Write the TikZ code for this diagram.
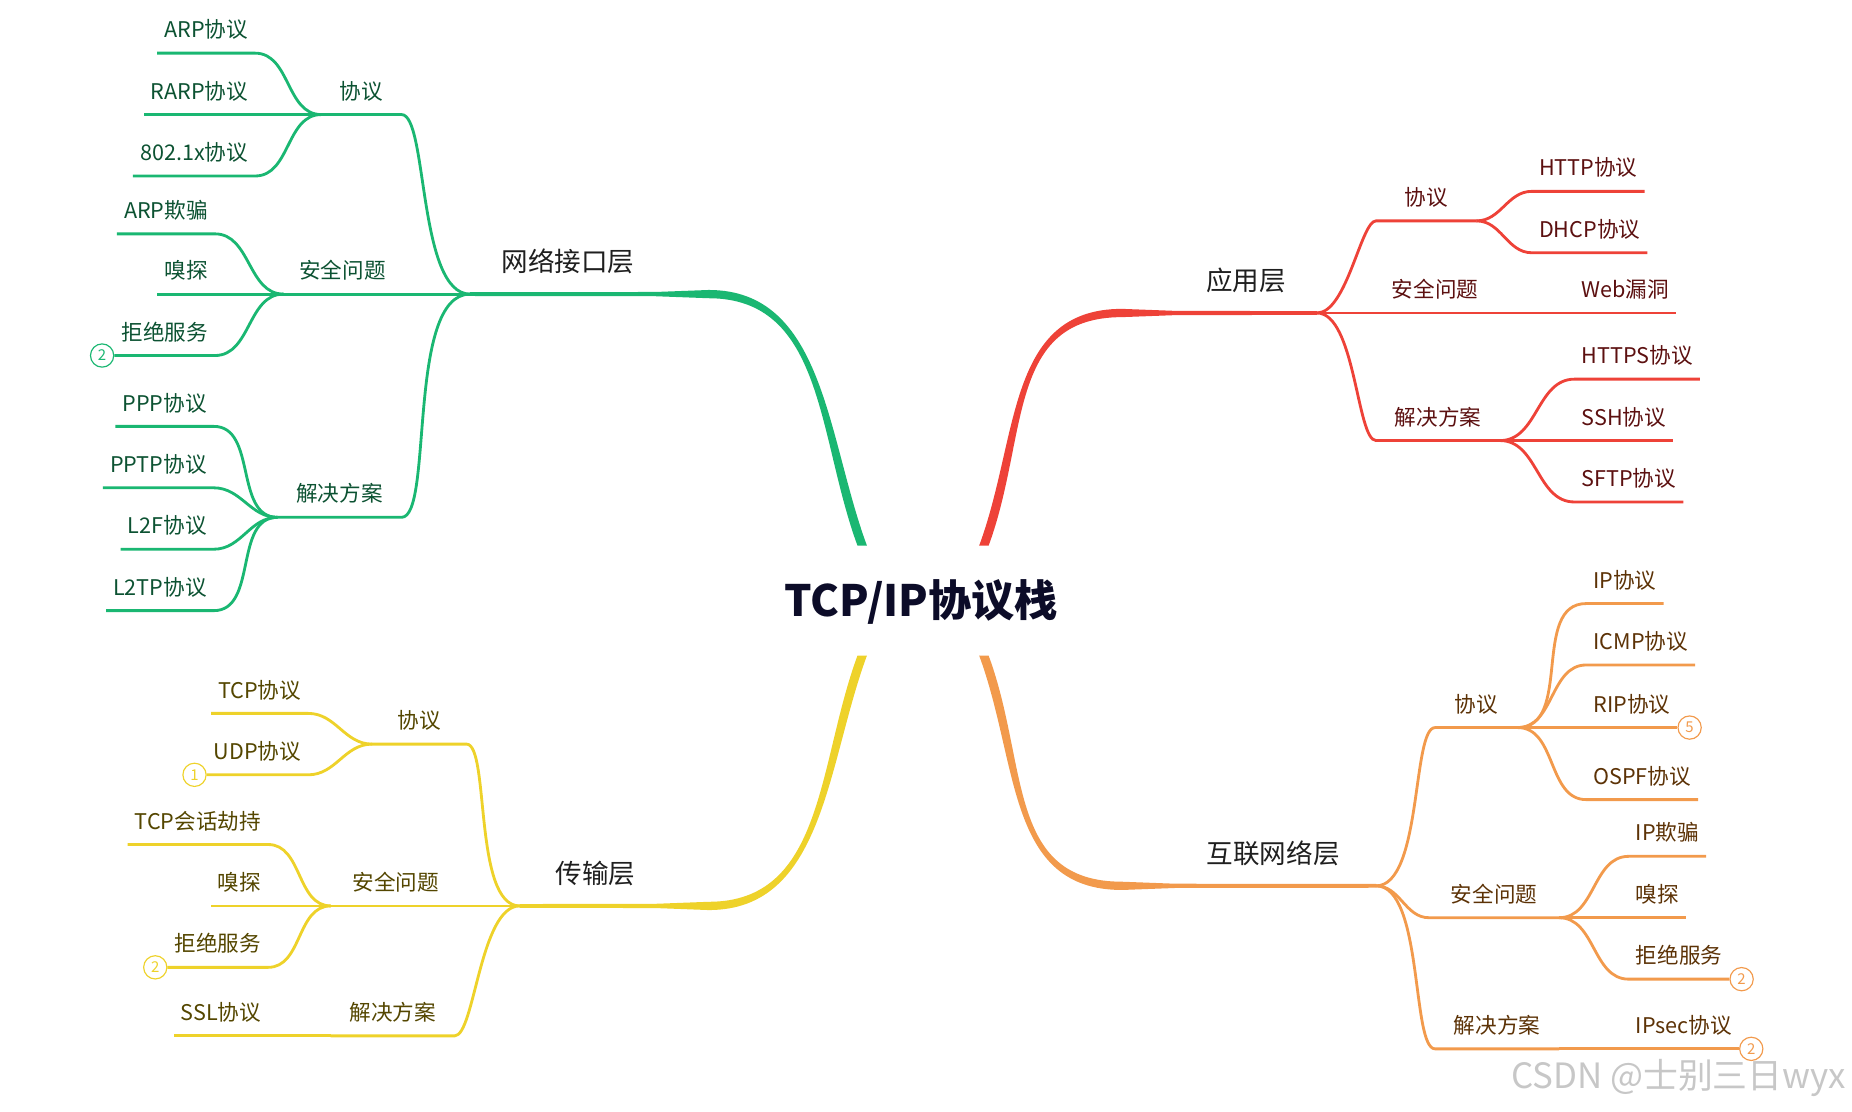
\documentclass[tikz,border=0pt]{standalone}
\usepackage{fontspec}
\setmainfont{Noto Sans CJK SC}
\usepackage{tikz}
\definecolor{lncol}{RGB}{26,183,114}
\definecolor{lntxt}{RGB}{12,82,50}
\definecolor{apcol}{RGB}{238,66,56}
\definecolor{aptxt}{RGB}{92,16,16}
\definecolor{trcol}{RGB}{238,210,42}
\definecolor{trtxt}{RGB}{84,70,0}
\definecolor{ipcol}{RGB}{242,154,76}
\definecolor{iptxt}{RGB}{92,50,6}
\definecolor{rootcol}{RGB}{12,12,40}

\begin{document}
\begin{tikzpicture}[x=0.025cm, y=-0.025cm,
    sub/.style={font=\fontsize{13}{15}\selectfont, inner xsep=4.3pt, inner ysep=9.25pt, text depth=0pt, outer sep=0pt},
    leafl/.style={sub, anchor=south east},
    leafr/.style={sub, anchor=south west},
    topic/.style={font=\fontsize{16}{19}\selectfont, text=black!88, inner ysep=13.5pt, text depth=0pt, outer sep=0pt, anchor=south},
    root/.style={font=\fontsize{26}{30}\selectfont\bfseries, text=rootcol},
    lnk/.style={line width=1.7pt},
    lc/.style={out=180, in=0},
    rc/.style={out=0, in=180},
    farlink/.style={out looseness=.7, in looseness=.35},
    badge/.style={circle, draw=#1, text=#1, fill=white, line width=0.7pt, minimum size=14pt, inner sep=0pt, font=\fontsize{9}{9}\selectfont}]
\useasboundingbox (0,0) rectangle (1568,941);

% 中心
\node[root] (root) at (780,510) {TCP/IP协议栈};

% 主干
\coordinate (ln) at (398,249); \coordinate (lnm) at (600,249); \coordinate (lnc) at (730,462);
\coordinate (ap) at (1115,265); \coordinate (apm) at (950,265); \coordinate (apc) at (833,462);
\coordinate (tr) at (440,767); \coordinate (trm) at (600,767); \coordinate (trc) at (730,555);
\coordinate (ip) at (1165,750); \coordinate (ipm) at (950,750); \coordinate (ipc) at (833,555);

\fill[lncol] ([shift={(0,-1.6)}]ln) -- ([shift={(-45,-1.8)}]lnm) -- ([shift={(0,-3.5)}]lnm) .. controls +(98,0) and +(-34,-92) .. ([shift={(4,0)}]lnc) -- ([shift={(-4,0)}]lnc) .. controls +(-34,-92) and +(98,0) .. ([shift={(0,3.5)}]lnm) -- ([shift={(-45,1.8)}]lnm) -- ([shift={(0,1.6)}]ln) -- cycle;
\fill[apcol] ([shift={(0,-1.6)}]ap) -- ([shift={(45,-1.8)}]apm) -- ([shift={(0,-3.5)}]apm) .. controls +(-98,0) and +(34,-92) .. ([shift={(-4,0)}]apc) -- ([shift={(4,0)}]apc) .. controls +(34,-92) and +(-98,0) .. ([shift={(0,3.5)}]apm) -- ([shift={(45,1.8)}]apm) -- ([shift={(0,1.6)}]ap) -- cycle;
\fill[trcol] ([shift={(0,-1.6)}]tr) -- ([shift={(-45,-1.8)}]trm) -- ([shift={(0,-3.5)}]trm) .. controls +(98,0) and +(-34,92) .. ([shift={(-4,0)}]trc) -- ([shift={(4,0)}]trc) .. controls +(-34,92) and +(98,0) .. ([shift={(0,3.5)}]trm) -- ([shift={(-45,1.8)}]trm) -- ([shift={(0,1.6)}]tr) -- cycle;
\fill[ipcol] ([shift={(0,-1.6)}]ip) -- ([shift={(45,-1.8)}]ipm) -- ([shift={(0,-3.5)}]ipm) .. controls +(-98,0) and +(34,92) .. ([shift={(4,0)}]ipc) -- ([shift={(-4,0)}]ipc) .. controls +(34,92) and +(-98,0) .. ([shift={(0,3.5)}]ipm) -- ([shift={(45,1.8)}]ipm) -- ([shift={(0,1.6)}]ip) -- cycle;

\node[topic] (lnt) at (481,249) {网络接口层};
\node[topic] (apt) at (1055,265) {应用层};
\node[topic] (trt) at (504,767) {传输层};
\node[topic] (ipt) at (1078,750) {互联网络层};

% 网络接口层
\node[leafl, text=lntxt, minimum width=48.4pt] (ln1) at (340,97) {协议};
\node[leafl, text=lntxt, minimum width=71.1pt] (ln2) at (340,249) {安全问题};
\node[leafl, text=lntxt, minimum width=74.7pt] (ln3) at (340,438) {解决方案};
\draw[lnk, lncol] (ln) to[lc, farlink] (ln1.south east) -- (ln1.south west);
\draw[lnk, lncol] (ln) -- (ln2.south east) -- (ln2.south west);
\draw[lnk, lncol] (ln) to[lc, farlink] (ln3.south east) -- (ln3.south west);
\foreach \n/\y/\lbl in {1/45/ARP协议, 2/97/RARP协议, 3/149/802.1x协议} {
  \node[leafl, text=lntxt] (ln1\n) at (216,\y) {\lbl};
  \draw[lnk, lncol] (ln1.south west) to[lc] (ln1\n.south east) -- (ln1\n.south west);
}
\foreach \n/\y/\lbl in {1/198/ARP欺骗, 2/249/嗅探, 3/301/拒绝服务} {
  \node[leafl, text=lntxt] (ln2\n) at (182,\y) {\lbl};
  \draw[lnk, lncol] (ln2.south west) to[lc] (ln2\n.south east) -- (ln2\n.south west);
}
\foreach \n/\y/\lbl in {1/361/PPP协议, 2/413/PPTP协议, 3/465/L2F协议, 4/517/L2TP协议} {
  \node[leafl, text=lntxt] (ln3\n) at (181,\y) {\lbl};
  \draw[lnk, lncol] (ln3.south west) to[lc] (ln3\n.south east) -- (ln3\n.south west);
}
\node[badge=lncol, anchor=east] (lnb) at (ln23.south west) {2};

% 应用层
\node[leafr, text=aptxt, minimum width=60.5pt] (ap1) at (1165,187) {协议};
\node[leafr, text=aptxt, minimum width=71.1pt] (ap2) at (1165,265) {安全问题};
\node[leafr, text=aptxt, minimum width=74.7pt] (ap3) at (1165,373) {解决方案};
\draw[lnk, apcol] (ap) to[rc, farlink] (ap1.south west) -- (ap1.south east);
\draw[lnk, apcol] (ap) -- (ap2.south west) -- (ap2.south east);
\draw[lnk, apcol] (ap) to[rc, farlink] (ap3.south west) -- (ap3.south east);
\foreach \n/\y/\lbl in {1/162/HTTP协议, 2/214/DHCP协议} {
  \node[leafr, text=aptxt] (ap1\n) at (1297,\y) {\lbl};
  \draw[lnk, apcol] (ap1.south east) to[rc] (ap1\n.south west) -- (ap1\n.south east);
}
\node[leafr, text=aptxt] (ap21) at (1333,265) {Web漏洞};
\draw[lnk, apcol] (ap2.south east) -- (ap21.south west) -- (ap21.south east);
\foreach \n/\y/\lbl in {1/321/HTTPS协议, 2/373/SSH协议, 3/425/SFTP协议} {
  \node[leafr, text=aptxt] (ap3\n) at (1333,\y) {\lbl};
  \draw[lnk, apcol] (ap3.south east) to[rc] (ap3\n.south west) -- (ap3\n.south east);
}

% 传输层
\node[leafl, text=trtxt, minimum width=56.9pt] (tr1) at (395,630) {协议};
\node[leafl, text=trtxt, minimum width=78.2pt] (tr2) at (390,767) {安全问题};
\node[leafl, text=trtxt, minimum width=74.7pt] (tr3) at (385,877) {解决方案};
\draw[lnk, trcol] (tr) to[lc, farlink] (tr1.south east) -- (tr1.south west);
\draw[lnk, trcol] (tr) -- (tr2.south east) -- (tr2.south west);
\draw[lnk, trcol] (tr) to[lc, farlink] (tr3.south east) -- (tr3.south west);
\foreach \n/\y/\lbl in {1/604/TCP协议, 2/656/UDP协议} {
  \node[leafl, text=trtxt] (tr1\n) at (261,\y) {\lbl};
  \draw[lnk, trcol] (tr1.south west) to[lc] (tr1\n.south east) -- (tr1\n.south west);
}
\foreach \n/\y/\lbl in {1/715/TCP会话劫持, 2/767/嗅探, 3/819/拒绝服务} {
  \node[leafl, text=trtxt] (tr2\n) at (227,\y) {\lbl};
  \draw[lnk, trcol] (tr2.south west) to[lc] (tr2\n.south east) -- (tr2\n.south west);
}
\node[leafl, text=trtxt] (tr31) at (227,877) {SSL协议};
\draw[lnk, trcol] (tr3.south west) -- (tr31.south east) -- (tr31.south west);
\node[badge=trcol, anchor=east] (trb1) at (tr12.south west) {1};
\node[badge=trcol, anchor=east] (trb2) at (tr23.south west) {2};

% 互联网络层
\node[leafr, text=iptxt, minimum width=49.8pt] (ip1) at (1215,616) {协议};
\node[leafr, text=iptxt, minimum width=78.2pt] (ip2) at (1210,777) {安全问题};
\node[leafr, text=iptxt, minimum width=74.7pt] (ip3) at (1215,888) {解决方案};
\draw[lnk, ipcol] (ip) to[rc, farlink] (ip1.south west) -- (ip1.south east);
\draw[lnk, ipcol] (ip) to[rc] (ip2.south west) -- (ip2.south east);
\draw[lnk, ipcol] (ip) to[rc, farlink] (ip3.south west) -- (ip3.south east);
\foreach \n/\y/\lbl in {1/511/IP协议, 2/563/ICMP协议, 3/616/RIP协议, 4/677/OSPF协议} {
  \node[leafr, text=iptxt] (ip1\n) at (1343,\y) {\lbl};
  \draw[lnk, ipcol] (ip1.south east) to[rc] (ip1\n.south west) -- (ip1\n.south east);
}
\foreach \n/\y/\lbl in {1/725/IP欺骗, 2/777/嗅探, 3/829/拒绝服务} {
  \node[leafr, text=iptxt] (ip2\n) at (1379,\y) {\lbl};
  \draw[lnk, ipcol] (ip2.south east) to[rc] (ip2\n.south west) -- (ip2\n.south east);
}
\node[leafr, text=iptxt] (ip31) at (1379,888) {IPsec协议};
\draw[lnk, ipcol] (ip3.south east) -- (ip31.south west) -- (ip31.south east);
\node[badge=ipcol, anchor=west] (ipb1) at (ip13.south east) {5};
\node[badge=ipcol, anchor=west] (ipb2) at (ip23.south east) {2};
\node[badge=ipcol, anchor=west] (ipb3) at (ip31.south east) {2};

\node[font=\fontsize{21}{24}\selectfont, text=black!22] (wm) at (1421,913) {CSDN @士别三日wyx};
\end{tikzpicture}
\end{document}
